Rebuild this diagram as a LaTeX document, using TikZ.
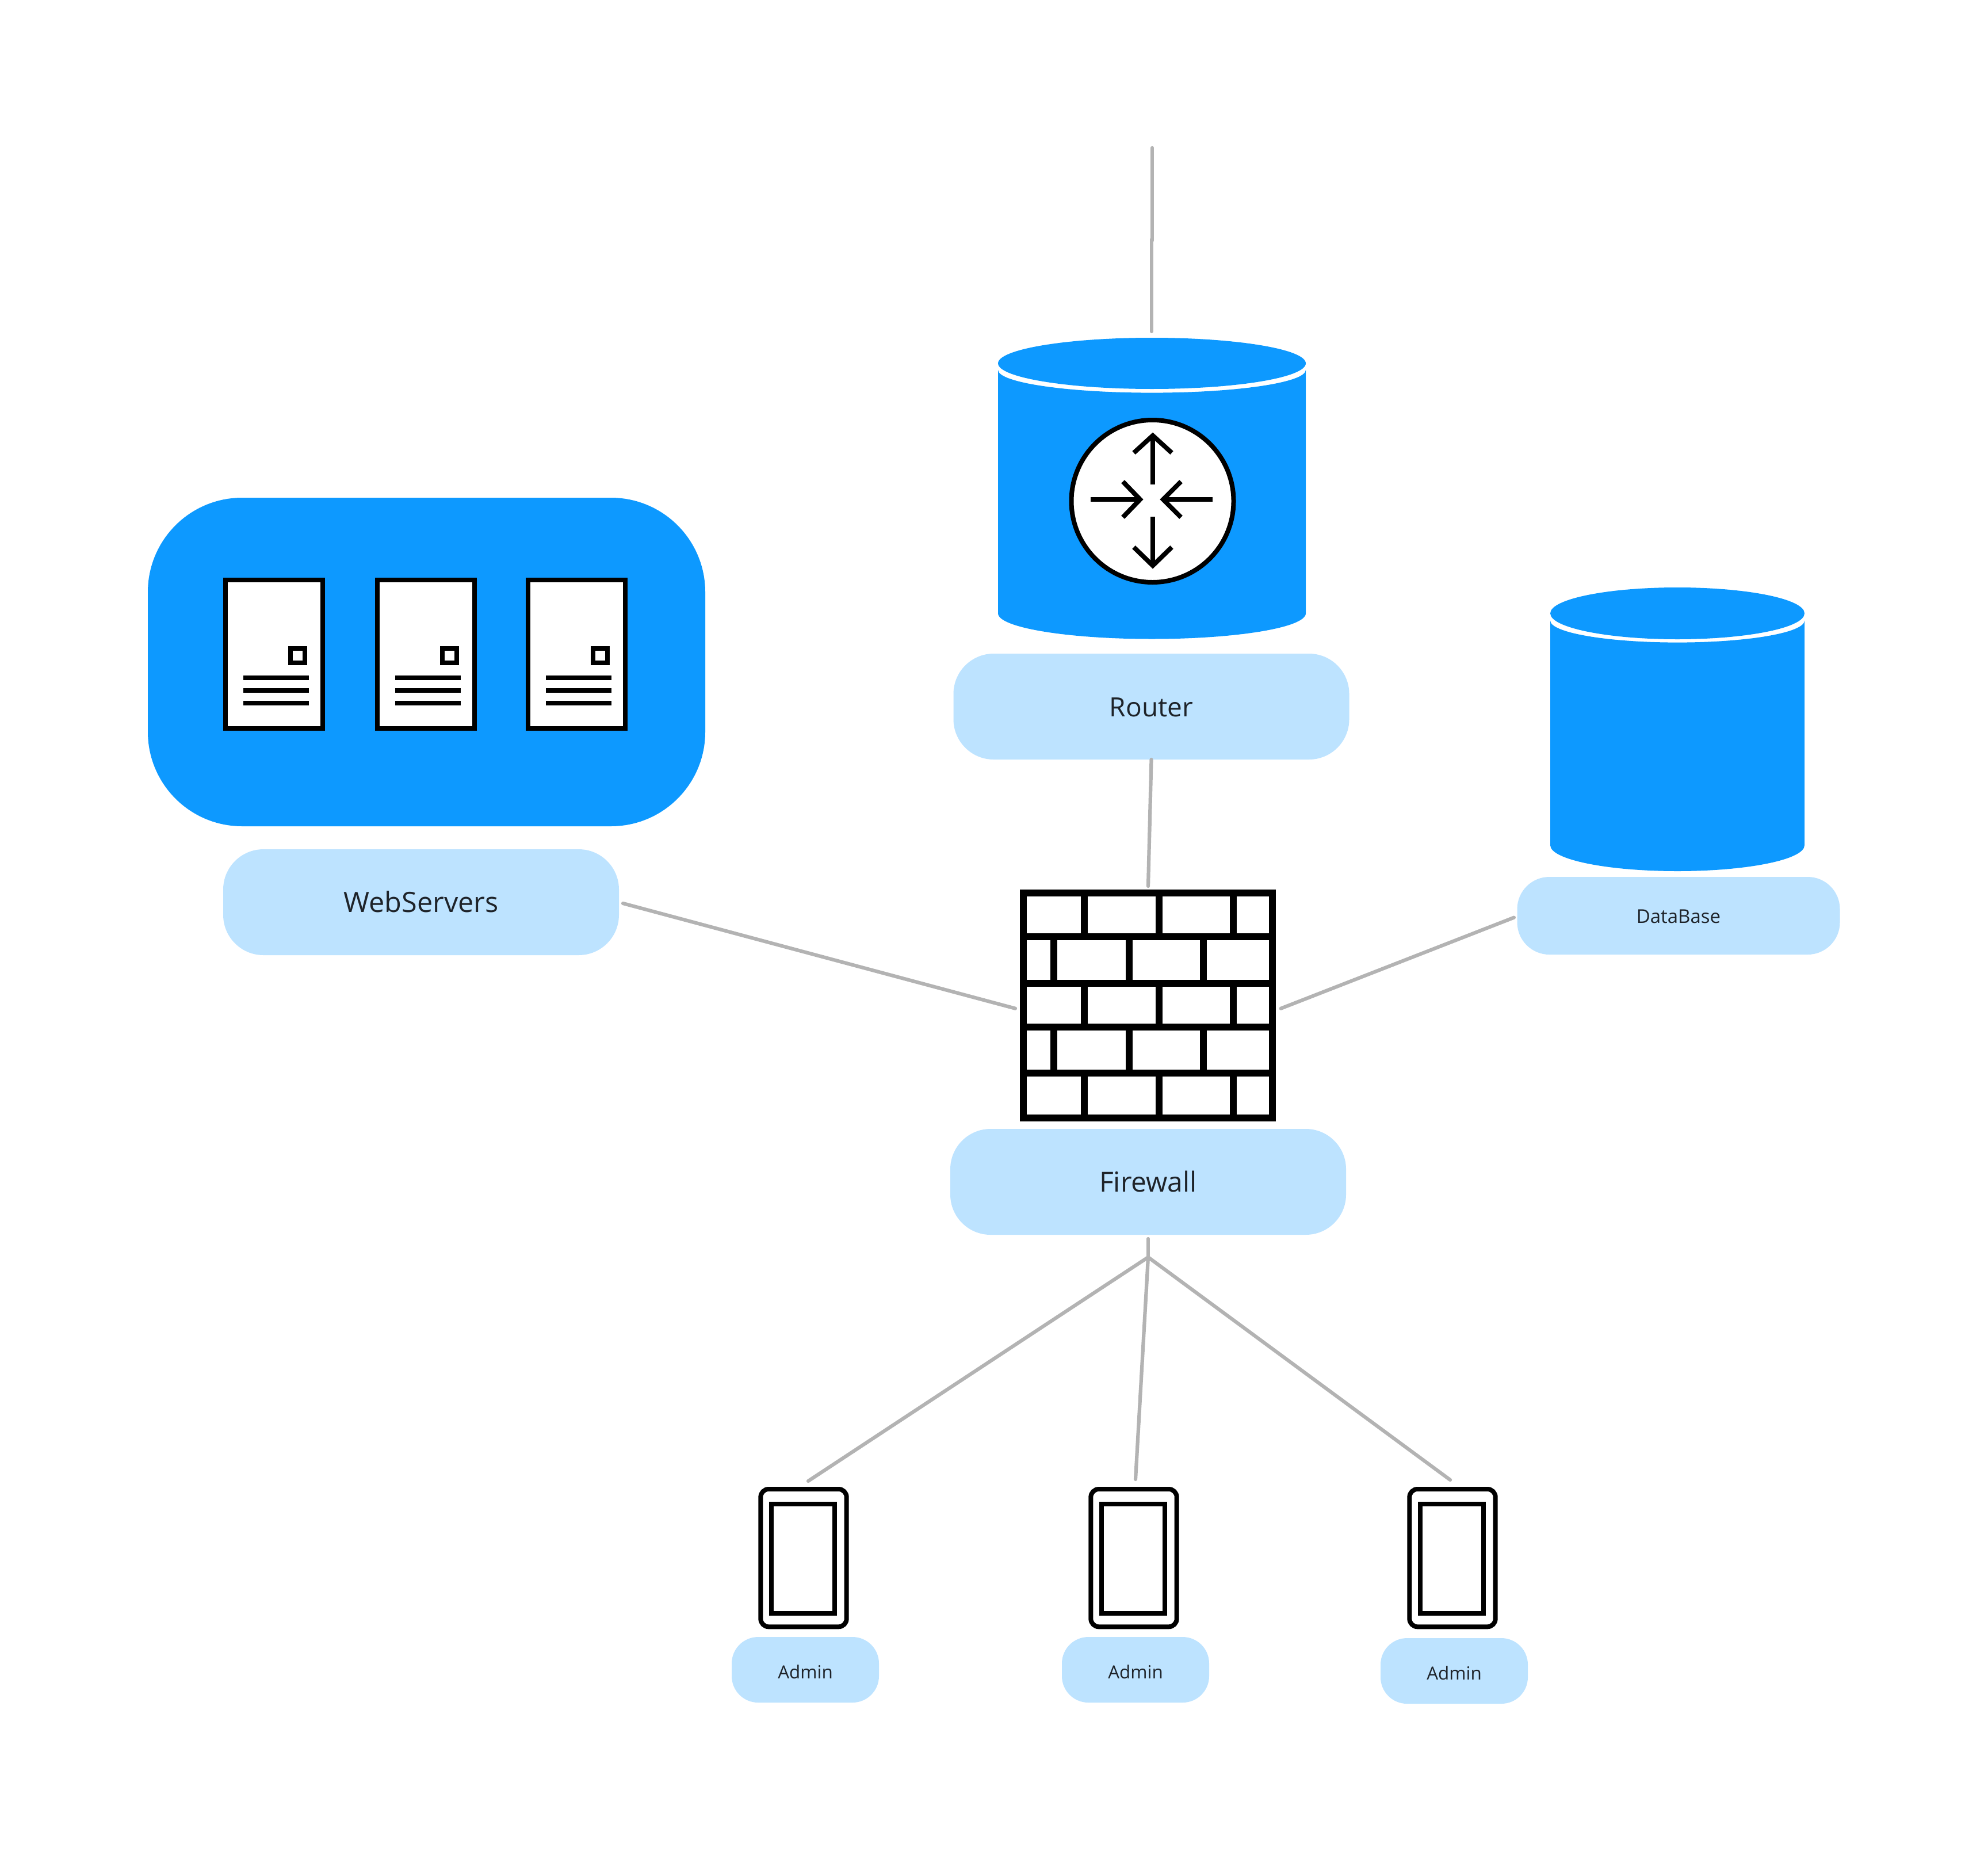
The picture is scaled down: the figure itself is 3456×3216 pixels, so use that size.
\documentclass[tikz,border=0pt]{standalone}
\usepackage{fontspec}
\setmainfont{Open Sans}
\definecolor{blueA}{HTML}{0D99FF}
\definecolor{blueB}{HTML}{BDE3FF}
\definecolor{lineC}{HTML}{B3B3B3}
\definecolor{txtC}{HTML}{1E2329}
\tikzset{
  link/.style={draw=lineC,line width=3.1pt,line cap=round},
  icon/.style={draw=black,line width=4pt,fill=white},
  bigtag/.style={fill=blueB,rounded corners=35pt,inner sep=0pt,text=txtC,text height=17pt,text depth=0pt,font=\fontsize{23}{26}\selectfont,anchor=center},
  midtag/.style={fill=blueB,rounded corners=28pt,inner sep=0pt,text=txtC,text height=12.5pt,text depth=0pt,font=\fontsize{16.5}{19}\selectfont,anchor=center},
  smalltag/.style={fill=blueB,rounded corners=23pt,inner sep=0pt,text=txtC,text height=15pt,text depth=0pt,font=\fontsize{15.7}{18}\selectfont,anchor=center},
  rarrow/.style={draw=black,line width=4pt},
}
\newcommand{\cyl}[7]{% cx, halfw, ellipse y, ry, body side-top y, bottom side y, concave ry
  \fill[blueA] (#1-#2,#5) -- (#1-#2,#6) arc[start angle=180,end angle=360,x radius=#2,y radius=-#4] -- (#1+#2,#5)
     arc[start angle=0,end angle=180,x radius=#2,y radius=#7] -- cycle;
  \fill[blueA] (#1,#3) ellipse[x radius=#2,y radius=#4];
}
\newcommand{\srv}[1]{% x offset
  \begin{scope}[xshift=#1*0.5pt]
    \draw[icon] (392,1008) rectangle (561.3,1265.7);
    \draw[icon] (505,1126.7) rectangle (530.3,1152.3);
    \foreach \yy in {1178.3,1200,1222}{\fill (422.7,\yy-4) rectangle (537,\yy+4);}
  \end{scope}
}
\newcommand{\phn}[1]{%
  \begin{scope}[xshift=#1*0.5pt]
    \draw[icon,rounded corners=7pt] (1322.3,2588) rectangle (1471.7,2827.3);
    \draw[icon] (1341,2614) rectangle (1450.7,2804);
  \end{scope}
}
\begin{document}
\begin{tikzpicture}[x=0.5pt,y=-0.5pt]
\useasboundingbox (0,0) rectangle (3456,3216);
\fill[white] (0,0) rectangle (3456,3216);

% router
\cyl{2002.5}{267.5}{631.5}{44.5}{643}{1066}{39.6}
\draw[icon] (2003.5,871) circle[radius=70.5pt];
\begin{scope}[rarrow]
  \draw (2004,842) -- (2004,757);
  \draw (1971,787) -- (2004,757) -- (2037,787);
  \draw (2004,898) -- (2004,983);
  \draw (1971,951) -- (2004,983) -- (2037,951);
  \draw (1896,868) -- (1980,868);
  \draw (1952,837) -- (1982,868) -- (1952,899);
  \draw (2108,868) -- (2024,868);
  \draw (2053,837) -- (2022,868) -- (2053,899);
\end{scope}
\node[bigtag,minimum width=344pt,minimum height=92pt] (router) at (2001.5,1228) {Router};

% web servers
\fill[blueA,rounded corners=82pt] (257,865) rectangle (1226,1436);
\srv{0}
\srv{264}
\srv{526}
\node[bigtag,minimum width=344pt,minimum height=92pt,font=\fontsize{24.3}{26}\selectfont] (web) at (732,1568) {WebServers};

% database
\cyl{2916}{221}{1066}{45}{1078.6}{1469}{38}
\node[midtag,minimum width=280.5pt,minimum height=67.5pt] (db) at (2918,1591.5) {DataBase};

% firewall
\draw[draw=black,line width=6pt,fill=white] (1779.3,1551.7) rectangle (2212.3,1943);
\begin{scope}[draw=black,line width=6pt]
  \foreach \yy in {1628,1708.7,1785.3,1865.3}{\draw (1779,\yy) -- (2212,\yy);}
  \foreach \xx in {1884.7,2015.3,2144.3}{
    \draw (\xx,1552) -- (\xx,1628);
    \draw (\xx,1708.7) -- (\xx,1785.3);
    \draw (\xx,1865.3) -- (\xx,1943);}
  \foreach \xx in {1832,1962.7,2091.7}{
    \draw (\xx,1628) -- (\xx,1708.7);
    \draw (\xx,1785.3) -- (\xx,1865.3);}
\end{scope}
\node[bigtag,minimum width=344pt,minimum height=92pt,font=\fontsize{24}{26}\selectfont] (fw) at (1996,2054) {Firewall};

% admins
\phn{0}
\phn{574}
\phn{1128}
\node[smalltag,minimum width=128pt,minimum height=57pt] (a1) at (1400,2902) {Admin};
\node[smalltag,minimum width=128pt,minimum height=57pt] (a2) at (1974,2902) {Admin};
\node[smalltag,minimum width=128pt,minimum height=57pt] (a3) at (2528,2904) {Admin};

% connectors
\coordinate (antenna) at (2003,257);
\coordinate (kinkA) at (2003,418);
\coordinate (kinkB) at (2002,416);
\coordinate (rtop) at (2002,576);
\coordinate (rbot) at (2001.5,1320);
\coordinate (fwtop) at (1996,1540);
\coordinate (webr) at (1083,1570);
\coordinate (fwl) at (1765,1752.7);
\coordinate (dbl) at (2632,1594.6);
\coordinate (fwr) at (2226.7,1752.7);
\coordinate (fwb) at (1996,2153);
\coordinate (hub) at (1996,2185);
\coordinate (p1) at (1405,2574);
\coordinate (p2) at (1974,2571);
\coordinate (p3) at (2521,2572);
\draw[link] (antenna) -- (kinkA);
\draw[link] (kinkB) -- (rtop);
\draw[link] (rbot) -- (fwtop);
\draw[link] (webr) -- (fwl);
\draw[link] (dbl) -- (fwr);
\draw[link] (fwb) -- (hub);
\draw[link] (hub) -- (p1);
\draw[link] (hub) -- (p2);
\draw[link] (hub) -- (p3);
\end{tikzpicture}
\end{document}
